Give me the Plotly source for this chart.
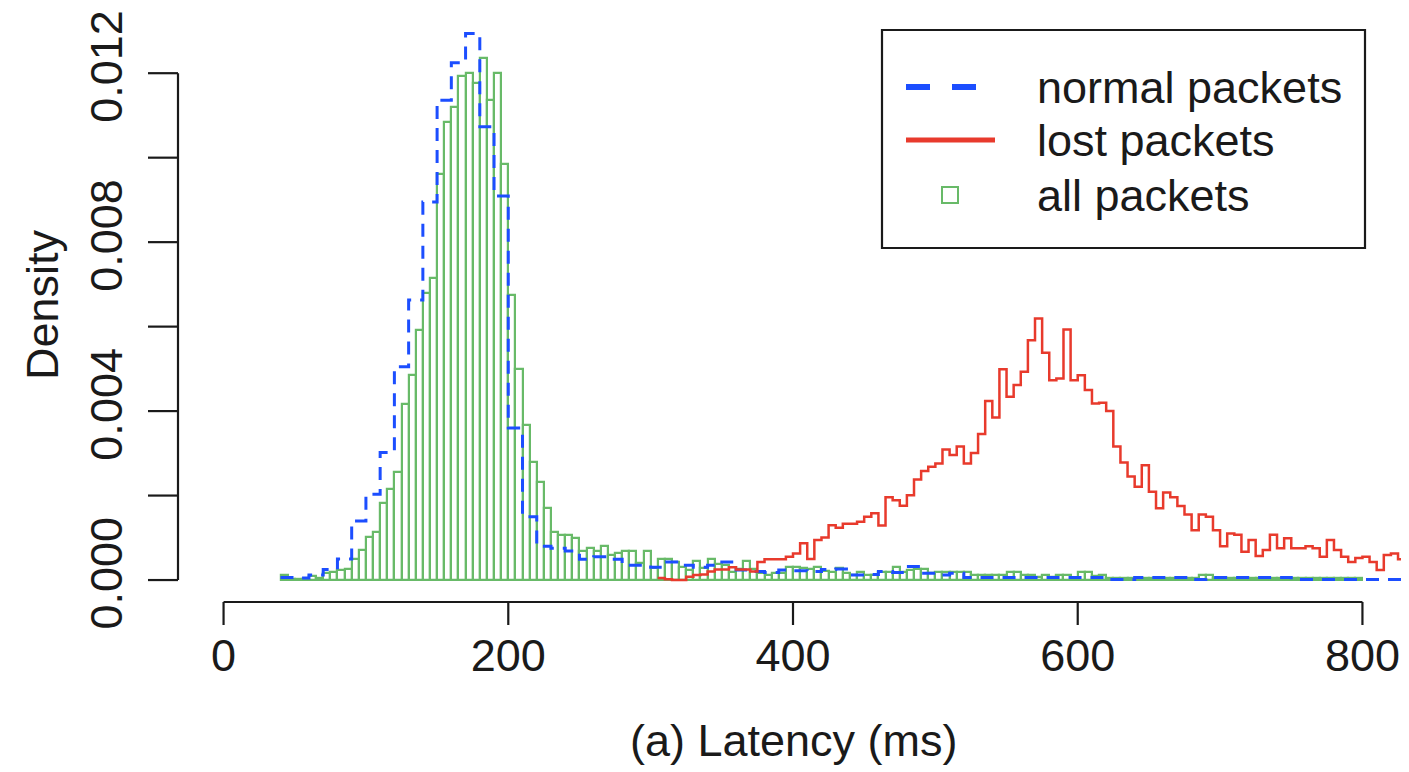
import plotly.graph_objects as go

# ---------------- data ----------------
# all packets histogram (density), 5 ms bins starting at 40 ms
all_bin_start = 40
all_bin_width = 5
all_density = [
    0.00012, 0.00003, 0.00003, 0.00003, 0.00010, 0.00004, 0.00016, 0.00020, 0.00024, 0.00025,
    0.00049, 0.00071, 0.00101, 0.00113, 0.00183, 0.00215, 0.00256, 0.00416, 0.00485, 0.00593,
    0.00679, 0.00714, 0.00961, 0.01085, 0.01119, 0.01193, 0.01201, 0.01177, 0.01237, 0.01136,
    0.01201, 0.00985, 0.00675, 0.00499, 0.00367, 0.00279, 0.00233, 0.00170, 0.00114, 0.00107,
    0.00107, 0.00099, 0.00069, 0.00076, 0.00069, 0.00081, 0.00059, 0.00065, 0.00069, 0.00069,
    0.00041, 0.00069, 0.00028, 0.00050, 0.00051, 0.00043, 0.00032, 0.00024, 0.00045, 0.00028,
    0.00050, 0.00039, 0.00035, 0.00020, 0.00025, 0.00045, 0.00025, 0.00016, 0.00012, 0.00016,
    0.00016, 0.00030, 0.00030, 0.00028, 0.00025, 0.00030, 0.00022, 0.00020, 0.00029, 0.00016,
    0.00012, 0.00020, 0.00012, 0.00012, 0.00020, 0.00020, 0.00032, 0.00020, 0.00024, 0.00025,
    0.00025, 0.00016, 0.00018, 0.00018, 0.00018, 0.00018, 0.00018, 0.00013, 0.00013, 0.00013,
    0.00013, 0.00013, 0.00018, 0.00018, 0.00013, 0.00013, 0.00008, 0.00013, 0.00008, 0.00013,
    0.00013, 0.00006, 0.00020, 0.00018, 0.00010, 0.00012, 0.00006, 0.00006, 0.00004, 0.00004,
    0.00006, 0.00006, 0.00006, 0.00004, 0.00006, 0.00004, 0.00006, 0.00006, 0.00004, 0.00013,
    0.00013, 0.00006, 0.00004, 0.00006, 0.00004, 0.00004, 0.00006, 0.00004, 0.00004, 0.00006,
    0.00004, 0.00004, 0.00006, 0.00006, 0.00006, 0.00006, 0.00006, 0.00006, 0.00006, 0.00004,
    0.00004, 0.00004,
]

# normal packets density, 10 ms bins starting at 40 ms
normal_bin_start = 40
normal_bin_width = 10
normal_density = [
    0.00006, 0.00005, 0.00012, 0.00025, 0.00050, 0.00140, 0.00203, 0.00302, 0.00505, 0.00663,
    0.00895, 0.01136, 0.01225, 0.01294, 0.01073, 0.00909, 0.00360, 0.00150, 0.00080, 0.00075,
    0.00069, 0.00049, 0.00055, 0.00049, 0.00035, 0.00035, 0.00030, 0.00043, 0.00035, 0.00030,
    0.00035, 0.00043, 0.00024, 0.00020, 0.00018, 0.00024, 0.00022, 0.00020, 0.00025, 0.00026,
    0.00012, 0.00013, 0.00020, 0.00018, 0.00032, 0.00016, 0.00012, 0.00016, 0.00006, 0.00006,
    0.00006, 0.00006, 0.00006, 0.00006, 0.00006, 0.00006, 0.00006, 0.00006, 0.00001, 0.00001,
    0.00006, 0.00006, 0.00006, 0.00006, 0.00001, 0.00006, 0.00006, 0.00006, 0.00006, 0.00006,
    0.00006, 0.00001, 0.00001, 0.00001, 0.00001, 0.00001, 0.00001, 0.00001, 0.00001,
]

# lost packets density, 5 ms bins starting at 305 ms
lost_bin_start = 305
lost_bin_width = 5
lost_density = [
    0.00005, 0.00002, 0.00000, 0.00000, 0.00008, 0.00012, 0.00013, 0.00020, 0.00025, 0.00025,
    0.00030, 0.00025, 0.00025, 0.00020, 0.00043, 0.00049, 0.00049, 0.00049, 0.00055, 0.00063,
    0.00087, 0.00050, 0.00095, 0.00101, 0.00130, 0.00124, 0.00133, 0.00133, 0.00138, 0.00150,
    0.00158, 0.00129, 0.00196, 0.00189, 0.00176, 0.00201, 0.00238, 0.00258, 0.00268, 0.00276,
    0.00309, 0.00296, 0.00316, 0.00276, 0.00301, 0.00346, 0.00424, 0.00385, 0.00499, 0.00434,
    0.00462, 0.00493, 0.00568, 0.00619, 0.00538, 0.00473, 0.00477, 0.00593, 0.00473, 0.00485,
    0.00450, 0.00418, 0.00420, 0.00400, 0.00316, 0.00278, 0.00245, 0.00221, 0.00272, 0.00209,
    0.00170, 0.00207, 0.00196, 0.00175, 0.00155, 0.00118, 0.00155, 0.00150, 0.00118, 0.00080,
    0.00110, 0.00107, 0.00067, 0.00095, 0.00057, 0.00071, 0.00107, 0.00075, 0.00099, 0.00075,
    0.00075, 0.00080, 0.00075, 0.00055, 0.00095, 0.00071, 0.00055, 0.00043, 0.00052, 0.00055,
    0.00043, 0.00024, 0.00059, 0.00063, 0.00049, 0.00050,
]

x_ticks = [0, 200, 400, 600, 800]
x_tick_labels = ["0", "200", "400", "600", "800"]
y_ticks = [0.000, 0.002, 0.004, 0.006, 0.008, 0.010, 0.012]
y_tick_labels = ["0.000", "", "0.004", "", "0.008", "", "0.012"]

legend_labels = ["normal packets", "lost packets", "all packets"]

# ---------------- style ----------------
BLUE = "rgb(28,78,255)"
RED = "rgb(232,58,44)"
GREEN = "rgb(104,186,104)"
INK = "#1a1a1a"
FONT = "Liberation Sans, Arial, Helvetica, sans-serif"
FS = 45

# the page body has an 8px margin: lay out in page pixels, shifted by OFF
OFF = 8
W, H = 1409 - OFF, 772 - OFF
PLOT_L, PLOT_R, PLOT_T, PLOT_B = 178, 1408, 9, 602  # page pixels of the plot region
L = PLOT_L - OFF
T = PLOT_T - OFF
R = W - (PLOT_R - OFF)
B = H - (PLOT_B - OFF)
PW, PH = W - L - R, H - T - B
X_TICK_LEN, Y_TICK_LEN = 23, 30


def px_to_paper_x(px):
    return (px - PLOT_L) / PW


def px_to_paper_y(py):
    return (PLOT_B - py) / PH


def step_xy(start, width, vals):
    xs = [start + i * width for i in range(len(vals) + 1)]
    ys = list(vals) + [vals[-1]]
    return xs, ys


fig = go.Figure()

# green histogram (all packets)
centers = [all_bin_start + (i + 0.5) * all_bin_width for i in range(len(all_density))]
fig.add_trace(go.Bar(
    x=centers, y=all_density, width=all_bin_width,
    marker=dict(color="rgba(0,0,0,0)", line=dict(color=GREEN, width=2.2)),
    name=legend_labels[2], showlegend=False,
))

# blue dashed step (normal packets)
bx, by = step_xy(normal_bin_start, normal_bin_width, normal_density)
fig.add_trace(go.Scatter(
    x=bx, y=by, mode="lines", line=dict(color=BLUE, width=3, shape="hv", dash="13px,9px"),
    name=legend_labels[0], showlegend=False,
))

# red step (lost packets)
rx, ry = step_xy(lost_bin_start, lost_bin_width, lost_density)
fig.add_trace(go.Scatter(
    x=rx, y=ry, mode="lines", line=dict(color=RED, width=2.5, shape="hv"),
    name=legend_labels[1], showlegend=False,
))

shapes = []
# axis lines spanning first to last tick (R style)
shapes.append(dict(type="line", xref="x", yref="paper", x0=x_ticks[0], x1=x_ticks[-1], y0=0, y1=0,
                   line=dict(color=INK, width=2.2)))
shapes.append(dict(type="line", xref="paper", yref="y", x0=0, x1=0, y0=y_ticks[0], y1=y_ticks[-1],
                   line=dict(color=INK, width=2.2)))
# tick marks (R style lengths)
for xv in x_ticks:
    shapes.append(dict(type="line", xref="x", yref="paper", x0=xv, x1=xv,
                       y0=0, y1=-X_TICK_LEN / PH, line=dict(color=INK, width=2.2)))
for yv in y_ticks:
    shapes.append(dict(type="line", xref="paper", yref="y", x0=0, x1=-Y_TICK_LEN / PW,
                       y0=yv, y1=yv, line=dict(color=INK, width=2.2)))

# manual legend box
shapes.append(dict(type="rect", xref="paper", yref="paper",
                   x0=px_to_paper_x(882), x1=px_to_paper_x(1365),
                   y0=px_to_paper_y(248), y1=px_to_paper_y(30),
                   line=dict(color=INK, width=2.2), fillcolor="white", layer="above"))
shapes.append(dict(type="line", xref="paper", yref="paper",
                   x0=px_to_paper_x(906), x1=px_to_paper_x(980),
                   y0=px_to_paper_y(87), y1=px_to_paper_y(87),
                   line=dict(color=BLUE, width=6, dash="24px,22px"), layer="above"))
shapes.append(dict(type="line", xref="paper", yref="paper",
                   x0=px_to_paper_x(906), x1=px_to_paper_x(995),
                   y0=px_to_paper_y(140), y1=px_to_paper_y(140),
                   line=dict(color=RED, width=5), layer="above"))
shapes.append(dict(type="rect", xref="paper", yref="paper",
                   x0=px_to_paper_x(942), x1=px_to_paper_x(958),
                   y0=px_to_paper_y(203), y1=px_to_paper_y(187),
                   line=dict(color=GREEN, width=2), fillcolor="white", layer="above"))

annotations = []
for lbl, py in zip(legend_labels, [87, 140, 195]):
    annotations.append(dict(text=lbl, xref="paper", yref="paper",
                            x=px_to_paper_x(1035), y=px_to_paper_y(py),
                            xanchor="left", yanchor="middle", showarrow=False,
                            font=dict(size=FS, color=INK, family=FONT)))

# axis titles
annotations.append(dict(text="(a) Latency (ms)", xref="paper", yref="paper",
                        x=px_to_paper_x(794), y=px_to_paper_y(740),
                        xanchor="center", yanchor="middle", showarrow=False,
                        font=dict(size=FS, color=INK, family=FONT)))
annotations.append(dict(text="Density", xref="paper", yref="paper",
                        x=px_to_paper_x(42), y=px_to_paper_y(305),
                        xanchor="center", yanchor="middle", showarrow=False, textangle=-90,
                        font=dict(size=FS, color=INK, family=FONT)))

fig.update_layout(
    width=W, height=H,
    margin=dict(l=L, r=R, t=T, b=B, pad=0, autoexpand=False),
    paper_bgcolor="white", plot_bgcolor="white",
    barmode="overlay", bargap=0,
    showlegend=False,
    font=dict(family=FONT, size=FS, color=INK),
    shapes=shapes, annotations=annotations,
    xaxis=dict(range=[-32, 832], tickvals=x_ticks, ticktext=x_tick_labels,
               ticks="outside", ticklen=14, tickwidth=0, tickcolor="rgba(0,0,0,0)",
               showgrid=False, zeroline=False, showline=False, automargin=False,
               tickfont=dict(size=FS, color=INK, family=FONT)),
    yaxis=dict(range=[-0.00052, 0.01352], tickvals=y_ticks, ticktext=y_tick_labels,
               ticks="outside", ticklen=37, tickwidth=0, tickcolor="rgba(0,0,0,0)", tickangle=-90,
               showgrid=False, zeroline=False, showline=False, automargin=False,
               tickfont=dict(size=FS, color=INK, family=FONT)),
)

fig.write_html("out.html")
